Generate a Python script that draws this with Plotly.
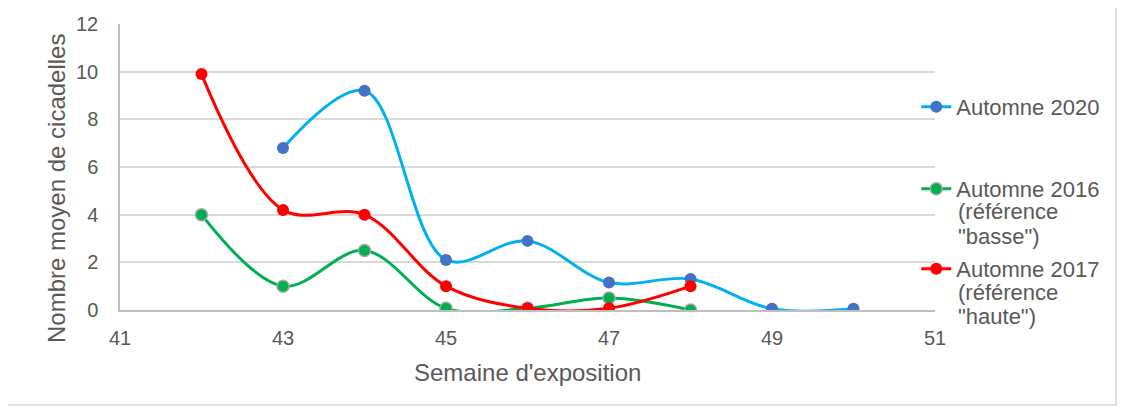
import plotly.graph_objects as go

# Semaines d'exposition et nombre moyen de cicadelles
semaines_2020 = [43, 44, 45, 46, 47, 48, 49, 50]
cicadelles_2020 = [6.8, 9.2, 2.1, 2.9, 1.15, 1.3, 0.05, 0.05]

semaines_2016 = [42, 43, 44, 45, 46, 47, 48]
cicadelles_2016 = [4.0, 1.0, 2.5, 0.07, 0.07, 0.5, 0.0]

semaines_2017 = [42, 43, 44, 45, 46, 47, 48]
cicadelles_2017 = [9.9, 4.2, 4.0, 1.0, 0.07, 0.07, 1.0]

x_ticks = [41, 43, 45, 47, 49, 51]
y_ticks = [0, 2, 4, 6, 8, 10, 12]

FONT = "Liberation Sans, Arial, sans-serif"
GRIS = "#595959"

fig = go.Figure()

fig.add_trace(go.Scatter(
    x=semaines_2020, y=cicadelles_2020, name="Automne 2020",
    mode="lines+markers", line=dict(color="#00B0F0", width=3, shape="spline", smoothing=1),
    marker=dict(color="#4472C4", size=12), legend="legend", showlegend=True))

fig.add_trace(go.Scatter(
    x=semaines_2016, y=cicadelles_2016, name="Automne 2016",
    mode="lines+markers", line=dict(color="#00B050", width=3, shape="spline", smoothing=1),
    marker=dict(color="#00B050", size=12, line=dict(color="#A5A5A5", width=1.5)),
    legend="legend2", showlegend=True))

fig.add_trace(go.Scatter(
    x=semaines_2017, y=cicadelles_2017, name="Automne 2017",
    mode="lines+markers", line=dict(color="#FF0000", width=3, shape="spline", smoothing=1),
    marker=dict(color="#FF0000", size=12), legend="legend3", showlegend=True))

leg = dict(x=0.977, xanchor="left", yanchor="top", valign="top",
           bgcolor="rgba(0,0,0,0)", font=dict(family=FONT, size=22, color=GRIS))

# la page ajoute une marge de 8 px : figure un peu plus petite que la fenêtre
fig.update_layout(
    width=1110, height=398,
    margin=dict(l=112, r=183, t=16, b=96, autoexpand=False),
    paper_bgcolor="white", plot_bgcolor="white",
    font=dict(family=FONT, color=GRIS),
    showlegend=True,
    legend=dict(leg, y=0.783),
    legend2=dict(leg, y=0.4965),
    legend3=dict(leg, y=0.2168),
    xaxis=dict(
        range=[41, 51], tickvals=x_ticks, showgrid=False, automargin=False,
        showline=True, linecolor="#BFBFBF", linewidth=1.5, zeroline=False,
        ticks="", ticklabelstandoff=9, tickfont=dict(size=20, color=GRIS),
    ),
    yaxis=dict(
        range=[0, 12], tickvals=y_ticks, showgrid=True, gridcolor="#D9D9D9", gridwidth=1.5,
        showline=True, linecolor="#BFBFBF", linewidth=1.5, zeroline=False, automargin=False,
        ticks="", ticklabelstandoff=16, tickfont=dict(size=20, color=GRIS),
    ),
)

# suite des libellés de légende (lignes 2 et 3)
suite_legende = [("(référence", 0.3427), ("\"basse\")", 0.2587),
                 ("(référence", 0.0629), ("\"haute\")", -0.021)]
for texte, yy in suite_legende:
    fig.add_annotation(text=texte, xref="paper", yref="paper", x=1.026, y=yy,
                       xanchor="left", yanchor="middle", showarrow=False,
                       font=dict(family=FONT, size=22, color=GRIS))

# titres des axes
fig.add_annotation(text="Semaine d'exposition", xref="paper", yref="paper",
                   x=0.4994, y=-0.2168, xanchor="center", yanchor="middle", showarrow=False,
                   font=dict(family=FONT, size=24, color=GRIS))
fig.add_annotation(text="Nombre moyen de cicadelles", xref="paper", yref="paper",
                   x=-0.0785, y=0.423, xanchor="center", yanchor="middle", showarrow=False,
                   textangle=-90, font=dict(family=FONT, size=24, color=GRIS))

# cadre gris autour du graphique
fig.add_shape(type="rect", xref="paper", yref="paper",
              x0=(-1 - 112) / 815, x1=(1108 - 112) / 815,
              y0=(302 - 397) / 286, y1=(302 + 1) / 286,
              line=dict(color="#D9D9D9", width=1.5), layer="below")

fig.write_html("out.html")
